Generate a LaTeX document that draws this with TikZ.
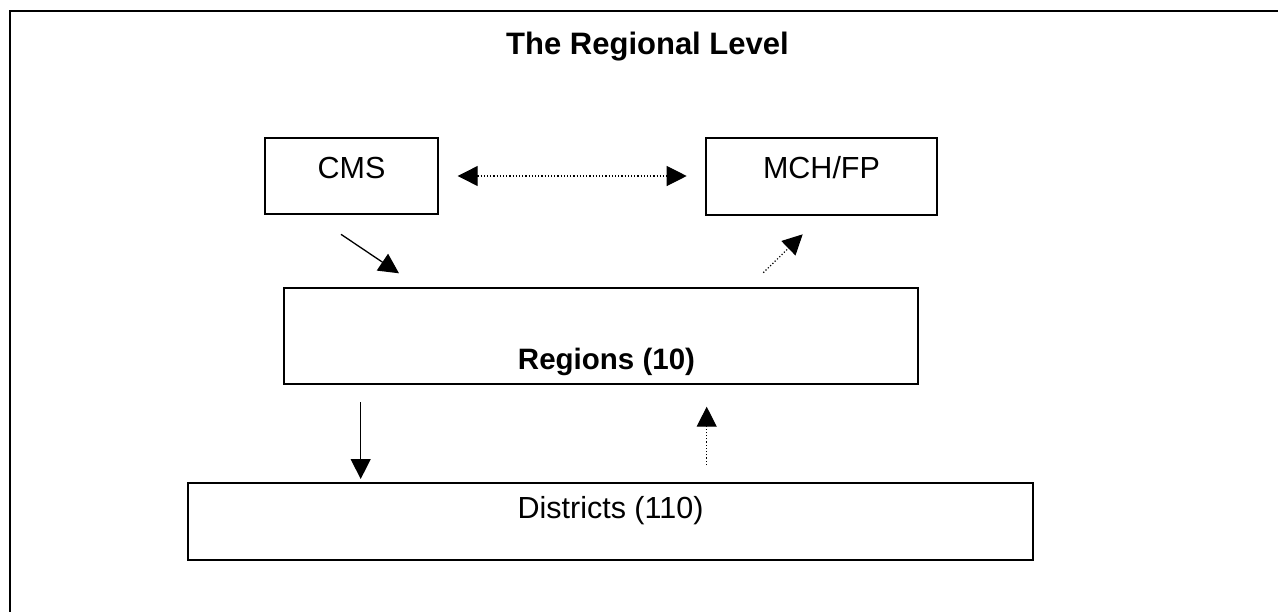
\documentclass[tikz,border=0pt]{standalone}
\usepackage{fontspec}
\setmainfont{Liberation Sans}
\usetikzlibrary{arrows.meta}
\begin{document}
\begin{tikzpicture}[x=1pt,y=-1pt,
  box/.style={draw,line width=1.5pt,inner xsep=0pt,inner ysep=0pt,outer sep=0pt,
    anchor=base,font=\fontsize{30.5}{36}\selectfont},
  tip/.style={-{Triangle[length=20pt,width=20pt]}},
  both/.style={{Triangle[length=20pt,width=20pt]}-{Triangle[length=20pt,width=20pt]}},
  solidarrow/.style={tip,line width=1.3pt},
  dotarrow/.style={tip,line width=1.2pt,dotted},
  frame/.style={line width=2.6pt,line cap=rect}]
\useasboundingbox (0,0) rectangle (1278,611);
% open frame: top and left edges only
\coordinate (fTL) at (10,11);
\coordinate (fTR) at (1282,11);
\coordinate (fBL) at (10,615);
\draw[frame] (fTR) -- (fTL) -- (fBL);

\node[font=\fontsize{31}{36}\selectfont\bfseries,anchor=base] (title) at (647.5,54) {The Regional Level};

\node[box,minimum width=173pt,text height=40pt,text depth=36pt] (cms) at (351.5,178) {CMS};
\node[box,minimum width=231pt,text height=40pt,text depth=37pt] (mch) at (821.5,178) {MCH/FP};
% regions box, label set slightly right of centre
\node[box,minimum width=634pt,text height=81pt,text depth=15pt] (reg) at (601,369) {};
\node[anchor=base,inner sep=0pt,font=\fontsize{29.5}{34}\selectfont\bfseries] (regtext) at (606.5,369) {Regions (10)};
\node[box,minimum width=845pt,text height=35pt,text depth=42pt] (dist) at (610.5,518) {Districts (110)};

% free ends of the connectors
\coordinate (cmsL) at (457.7,176);
\coordinate (mchR) at (686.7,176);
\coordinate (cmsOut) at (341,234.3);
\coordinate (regIn) at (399,273.3);
\coordinate (regOut) at (763.3,272.7);
\coordinate (mchIn) at (802.7,234.3);
\coordinate (regDown) at (360.7,402.3);
\coordinate (distIn) at (360.7,479);
\coordinate (distOut) at (706.7,465);
\coordinate (regUp) at (706.7,406.7);

\draw[both,line width=1.2pt,dotted] (cmsL) -- (mchR);
\draw[solidarrow] (cmsOut) -- (regIn);
\draw[dotarrow] (regOut) -- (mchIn);
\draw[solidarrow] (regDown) -- (distIn);
\draw[dotarrow] (distOut) -- (regUp);
\end{tikzpicture}
\end{document}
